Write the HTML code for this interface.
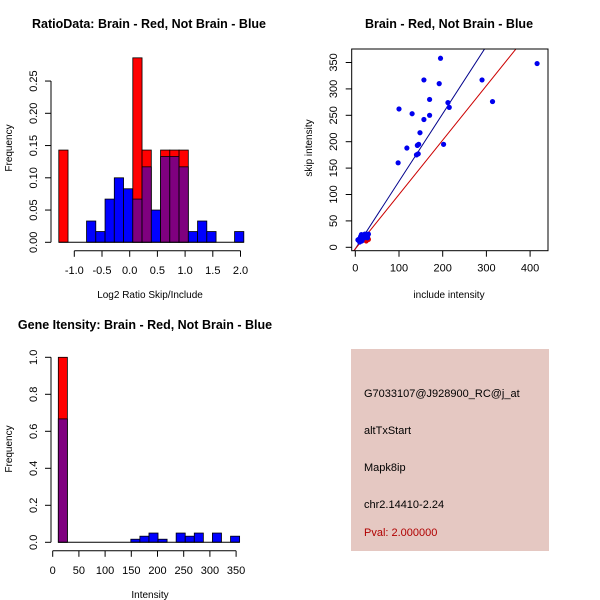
<!DOCTYPE html>
<html><head><meta charset="utf-8"><style>
body{margin:0;background:#fff}
svg{display:block;font-family:"Liberation Sans",sans-serif}
</style></head><body>
<svg id="s" width="600" height="600" xmlns="http://www.w3.org/2000/svg">
<rect x="351" y="349" width="198" height="202" fill="#e5c8c2"/>
<g font-size="11" fill="#000">
<text x="364" y="397">G7033107@J928900_RC@j_at</text>
<text x="364" y="434">altTxStart</text>
<text x="364" y="471">Mapk8ip</text>
<text x="364" y="508">chr2.14410-2.24</text>
<text x="364" y="536" fill="#b00000">Pval: 2.000000</text>
</g>
</svg>
<script>
// ---- Ratio histogram data ----
const ratioStart = -1.28;
const ratioWidth = 0.167;
const ratioBlue = [0,0,0,0.033,0.0167,0.067,0.10,0.083,0.067,0.117,0.05,0.133,0.133,0.117,0.0167,0.033,0.0167,0,0,0.0167];
const ratioRed  = [0.143,0,0,0,0,0,0,0,0.286,0.143,0,0.143,0.143,0.143,0,0,0,0,0,0];
const ratioXTicks = [-1.0,-0.5,0.0,0.5,1.0,1.5,2.0];
const ratioYTicks = [0,0.05,0.10,0.15,0.20,0.25];
// ---- Intensity histogram data ----
const intStart = 10.7;
const intWidth = 17.3;
const intBlue = [0.667,0,0,0,0,0,0,0,0.0167,0.033,0.05,0.0167,0,0.05,0.033,0.05,0,0.05,0,0.033];
const intRed  = [1.0,0,0,0,0,0,0,0,0,0,0,0,0,0,0,0,0,0,0,0];
const intXTicks = [0,50,100,150,200,250,300,350];
const intYTicks = [0,0.2,0.4,0.6,0.8,1.0];
// ---- Scatter data ----
const blueX = [100,98,130,118,157,195,192,170,170,157,148,145,142,140,144,212,215,202,290,314,416,8,12,15,18,20,22,25,10,14,28,6,30,17,21];
const blueY = [262,160,253,188,317,358,310,280,250,242,217,195,193,175,177,274,265,195,317,276,348,15,20,12,22,18,25,20,10,24,18,14,25,16,23];
const redX = [15,20,25,28,18,22,30,12];
const redY = [14,18,12,20,22,16,15,12];
const blueFit = [1.28,-3];
const redFit = [1.03,-3];
const scXTicks = [0,100,200,300,400];
const scYTicks = [0,50,100,150,200,250,300,350];

const S=document.getElementById('s'), NS='http://www.w3.org/2000/svg';
function el(t,a,p){const e=document.createElementNS(NS,t);for(const k in a)e.setAttribute(k,a[k]);(p||S).appendChild(e);return e;}
function txt(x,y,s,a,p){const e=el('text',Object.assign({x:x,y:y,'font-size':11,'text-anchor':'middle'},a||{}),p);e.textContent=s;return e;}

function hist(o){
  const g=el('g',{});
  
  
  const X=v=>o.x0+(v-o.xa)*o.xs, Y=v=>o.y0-v*o.ys;
  const n=o.blue.length;
  for(let i=0;i<n;i++){
    const l=X(o.start+i*o.w), r=X(o.start+(i+1)*o.w);
    const b=o.blue[i], rd=o.red[i], mn=Math.min(b,rd), mx=Math.max(b,rd);
    if(mx>0){
      const top=el('rect',{x:l,y:Y(mx),width:r-l,height:Y(0)-Y(mx),fill:b>rd?'#0000ff':'#ff0000',stroke:'#000','stroke-width':0.8},g);
      
      
    }
    if(mn>0){
      const p=el('rect',{x:l,y:Y(mn),width:r-l,height:Y(0)-Y(mn),fill:'#7f007f',stroke:'#000','stroke-width':0.8},g);
      
      
    }
  }
  el('line',{x1:X(o.start),x2:X(o.start+n*o.w),y1:Y(0),y2:Y(0),stroke:'#000'},g);
  const yt=o.yt;
  el('line',{x1:51,x2:51,y1:Y(yt[0]),y2:Y(yt[yt.length-1]),stroke:'#000'},g);
  yt.forEach(v=>{el('line',{x1:45,x2:51,y1:Y(v),y2:Y(v),stroke:'#000'},g);
    const t=txt(0,0,o.yf(v),{transform:`translate(37,${Y(v)}) rotate(-90)`},g);
    
    });
  const xt=o.xt, ay=o.y0+8.5;
  el('line',{x1:X(xt[0]),x2:X(xt[xt.length-1]),y1:ay,y2:ay,stroke:'#000'},g);
  xt.forEach(v=>{el('line',{x1:X(v),x2:X(v),y1:ay,y2:ay+6,stroke:'#000'},g);
    const t=txt(X(v),ay+23,o.xf(v),{},g);
    
    });
}
hist({name:'ratio-histogram',start:ratioStart,w:ratioWidth,blue:ratioBlue,red:ratioRed,x0:74.3,xa:-1,xs:55.4,y0:242.3,ys:645,
  yt:ratioYTicks,xt:ratioXTicks,yf:v=>v.toFixed(2),xf:v=>v.toFixed(1)});
hist({name:'intensity-histogram',start:intStart,w:intWidth,blue:intBlue,red:intRed,x0:52.7,xa:0,xs:0.524,y0:542.3,ys:185,
  yt:intYTicks,xt:intXTicks,yf:v=>v.toFixed(1),xf:v=>String(v)});

(function(){
  const g=el('g',{});
  
  
  const X=v=>355.3+v*0.437, Y=v=>247.3-v*0.528;
  const L=351.7,R=548,T=49,B=250.7;
  const cp=el('clipPath',{id:'cp'},g);el('rect',{x:L,y:T,width:R-L,height:B-T},cp);
  const lg=el('g',{'clip-path':'url(#cp)'},g);
  [[blueFit,'#00008b'],[redFit,'#cc0000']].forEach(([f,c],k)=>{
    const ln=el('line',{x1:X(-20),y1:Y(f[0]*-20+f[1]),x2:X(500),y2:Y(f[0]*500+f[1]),stroke:c,'stroke-width':1},lg);
    
    
  });
  redX.forEach((x,i)=>{const c=el('circle',{cx:X(x),cy:Y(redY[i]),r:2.6,fill:'#e00000'},g);
    
    });
  blueX.forEach((x,i)=>{const c=el('circle',{cx:X(x),cy:Y(blueY[i]),r:2.6,fill:'#0000ee'},g);
    
    });
  el('rect',{x:L,y:T,width:R-L,height:B-T,fill:'none',stroke:'#000'},g);
  scXTicks.forEach(v=>{el('line',{x1:X(v),x2:X(v),y1:B,y2:B+6,stroke:'#000'},g);
    const t=txt(X(v),B+21,String(v),{},g);
    
    });
  scYTicks.forEach(v=>{el('line',{x1:L-6,x2:L,y1:Y(v),y2:Y(v),stroke:'#000'},g);
    const t=txt(0,0,String(v),{transform:`translate(337,${Y(v)}) rotate(-90)`},g);
    
    });
})();

const labels=[
 [149,28,'RatioData: Brain - Red, Not Brain - Blue','ratio-title',true,0],
 [449,28,'Brain - Red, Not Brain - Blue','scatter-title',true,0],
 [145,329,'Gene Itensity: Brain - Red, Not Brain - Blue','intensity-title',true,0],
 [150,298,'Log2 Ratio Skip/Include','ratio-x-title',false,0],
 [449,298,'include intensity','scatter-x-title',false,0],
 [150,598,'Intensity','intensity-x-title',false,0],
 [12,148,'Frequency','ratio-y-title',false,1],
 [312,148,'skip intensity','scatter-y-title',false,1],
 [12,449,'Frequency','intensity-y-title',false,1]];
labels.forEach(([x,y,s,n,b,r])=>{
  const a=b?{'font-weight':'bold','font-size':12.5}:{'font-size':10};
  if(r){a.transform=`translate(${x},${y}) rotate(-90)`;x=0;y=0;}
  const t=txt(x,y,s,a);
  
  
});
</script>
</body></html>
